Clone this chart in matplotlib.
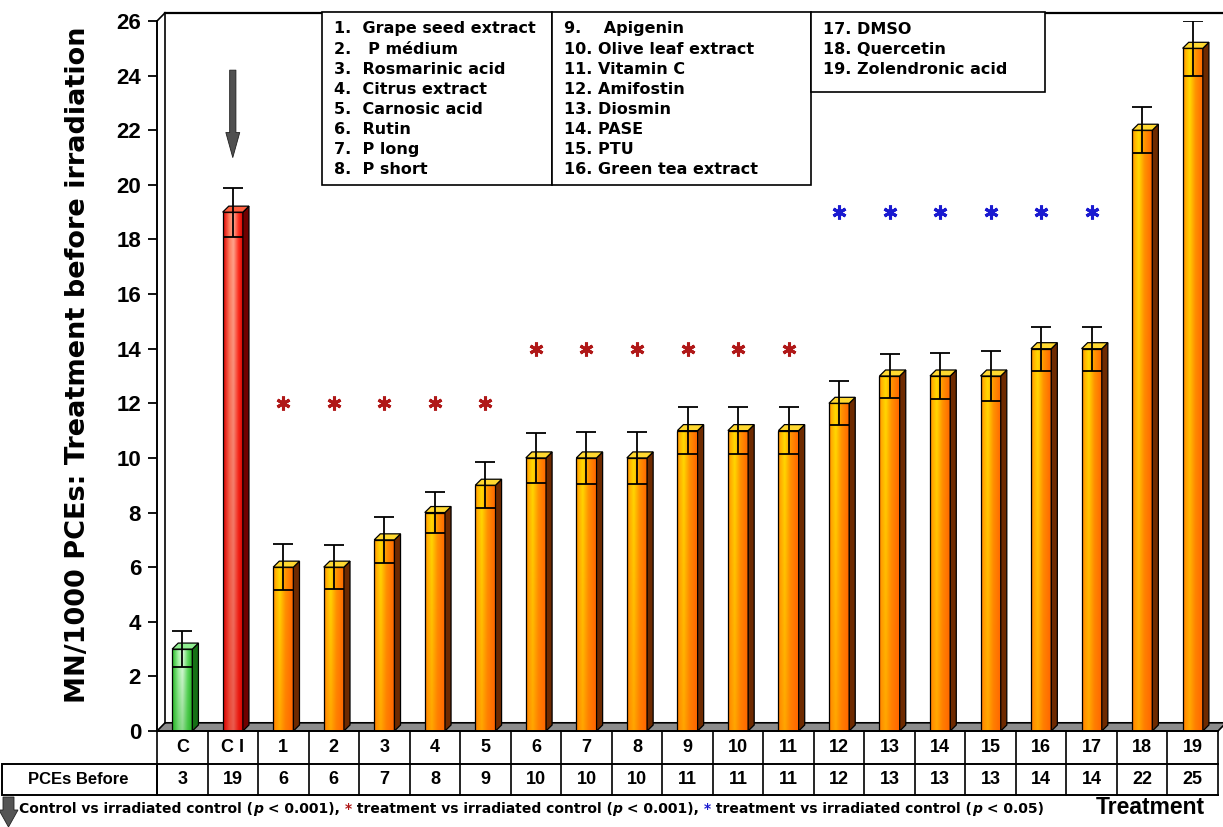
import numpy as np
import matplotlib.pyplot as plt
import matplotlib.transforms as mtransforms
from matplotlib.patches import Rectangle, Polygon
from matplotlib.colors import to_rgb

# groups along the x axis and the MN/1000 PCE counts
groups = ['C', 'C I', '1', '2', '3', '4', '5', '6', '7', '8', '9', '10',
          '11', '12', '13', '14', '15', '16', '17', '18', '19']
mn_values = [3, 19, 6, 6, 7, 8, 9, 10, 10, 10, 11, 11, 11, 12, 13, 13, 13, 14, 14, 22, 25]
mn_errors = [0.65, 0.9, 0.85, 0.8, 0.85, 0.75, 0.85, 0.9, 0.95, 0.95, 0.85, 0.85,
             0.85, 0.8, 0.8, 0.85, 0.9, 0.8, 0.8, 0.85, 1.0]
pce_before = ['3', '19', '6', '6', '7', '8', '9', '10', '10', '10', '11', '11',
              '11', '12', '13', '13', '13', '14', '14', '22', '25']
bar_kinds = ['control', 'irradiated'] + ['treatment'] * 19

# significance marks
red_star_groups = ['1', '2', '3', '4', '5', '6', '7', '8', '9', '10', '11']
red_star_y = [12, 12, 12, 12, 12, 14, 14, 14, 14, 14, 14]
blue_star_groups = ['12', '13', '14', '15', '16', '17']
blue_star_y = [19, 19, 19, 19, 19, 19]

# treatment key, three boxes
key_cols = [
    ['1.  Grape seed extract', '2.   P médium', '3.  Rosmarinic acid', '4.  Citrus extract',
     '5.  Carnosic acid', '6.  Rutin', '7.  P long', '8.  P short'],
    ['9.    Apigenin', '10. Olive leaf extract', '11. Vitamin C', '12. Amifostin',
     '13. Diosmin', '14. PASE', '15. PTU', '16. Green tea extract'],
    ['17. DMSO', '18. Quercetin', '19. Zolendronic acid'],
]

styles = {
    'treatment': dict(stops=[(0, '#ff7800'), (0.1, '#ffb000'), (0.32, '#ffdc00'),
                             (0.6, '#ff9400'), (1, '#ff6400')],
                      side='#6e2a00', top='#ffd830'),
    'control': dict(stops=[(0, '#22bb22'), (0.3, '#aaf5aa'), (0.5, '#e8ffe8'),
                           (0.75, '#66dd66'), (1, '#22aa22')],
                    side='#157015', top='#90ee90'),
    'irradiated': dict(stops=[(0, '#e00000'), (0.3, '#ff8060'), (0.5, '#ffa890'),
                              (0.75, '#ff3020'), (1, '#d00000')],
                       side='#700000', top='#ff6040'),
}


def gradient(stops, ny=80, nx=40):
    xs = np.linspace(0, 1, nx)
    pos = [s[0] for s in stops]
    cols = np.array([to_rgb(s[1]) for s in stops])
    row = np.stack([np.interp(xs, pos, cols[:, k]) for k in range(3)], axis=-1)
    img = np.repeat(row[None, :, :], ny, axis=0)
    # deeper tone toward the base
    shade = np.linspace(0.45, 0.0, ny)[:, None, None]
    base = np.array(to_rgb(stops[-1][1]))
    return img * (1 - shade) + base * shade


W, H = 1223, 827
fig = plt.figure(figsize=(W / 100, H / 100), dpi=100)
ax = fig.add_axes([157 / W, 96 / H, (1218 - 157) / W, 710 / H])

x = np.arange(len(groups))
xmin, xmax = -0.5, len(groups) - 0.5
dx, dy = 0.16, 0.3       # depth of the 3D frame
bw, bdx, bdy = 0.4, 0.12, 0.22

# floor and back wall
ax.add_patch(Polygon([(xmin, 0), (xmax, 0), (xmax + dx, dy), (xmin + dx, dy)],
                     closed=True, facecolor='#8c8c8c', edgecolor='black', lw=1.2,
                     zorder=1, clip_on=False))
ax.plot([xmin + dx, xmin + dx], [dy, 26 + dy], color='black', lw=1.2, clip_on=False, zorder=1)
ax.plot([xmin + dx, xmax + dx], [26 + dy, 26 + dy], color='black', lw=1.6, clip_on=False, zorder=1)
ax.plot([xmin, xmin + dx], [26, 26 + dy], color='black', lw=1.2, clip_on=False, zorder=1)

# bars with gradient faces
for xi, v, kind in zip(x, mn_values, bar_kinds):
    st = styles[kind]
    x0 = xi - bw / 2
    rect = Rectangle((x0, 0), bw, v, facecolor='none', edgecolor='black', lw=0.9, zorder=3)
    ax.add_patch(rect)
    im = ax.imshow(gradient(st['stops']), extent=(x0, x0 + bw, 0, v),
                   aspect='auto', origin='lower', zorder=2, interpolation='bilinear')
    im.set_clip_path(rect)
    ax.add_patch(Polygon([(x0 + bw, 0), (x0 + bw + bdx, bdy), (x0 + bw + bdx, v + bdy),
                          (x0 + bw, v)], closed=True, facecolor=st['side'],
                         edgecolor='black', lw=0.9, zorder=3))
    ax.add_patch(Polygon([(x0, v), (x0 + bdx, v + bdy), (x0 + bw + bdx, v + bdy),
                          (x0 + bw, v)], closed=True, facecolor=st['top'],
                         edgecolor='black', lw=0.9, zorder=3))

ax.errorbar(x, mn_values, yerr=mn_errors, fmt='none', ecolor='black',
            elinewidth=1.3, capsize=7, capthick=1.3, zorder=5)

# significance asterisks
pos = {g: i for i, g in enumerate(groups)}
ax.plot([pos[g] for g in red_star_groups], red_star_y, linestyle='none',
        marker=(6, 2, 0), markersize=10, mew=2.2, color='#b01818', zorder=5)
ax.plot([pos[g] for g in blue_star_groups], blue_star_y, linestyle='none',
        marker=(6, 2, 0), markersize=10, mew=2.2, color='#1a1ad0', zorder=5)

# arrow over the irradiated control
ax.annotate('', xy=(pos['C I'], 21.0), xytext=(pos['C I'], 24.2),
            arrowprops=dict(facecolor='#505050', edgecolor='#202020', lw=0.6,
                            width=4.5, headwidth=10, headlength=18, shrink=0))

ax.set_xlim(xmin, xmax)
ax.set_ylim(0, 26)
ax.set_yticks(range(0, 27, 2))
ax.set_xticks([])
for s in ['top', 'right', 'bottom']:
    ax.spines[s].set_visible(False)
ax.spines['left'].set_linewidth(1.4)
ax.tick_params(axis='y', direction='out', length=6.5, width=1.3, pad=5)
for lab in ax.get_yticklabels():
    lab.set_fontfamily('Liberation Sans')
    lab.set_fontweight('bold')
    lab.set_fontsize(16)

fig.text(78 / W, 1 - 365 / H, 'MN/1000 PCEs: Treatment before irradiation',
         rotation=90, ha='center', va='center', fontsize=19.5, fontweight='bold',
         family='DejaVu Sans')

# table under the bars
trans = mtransforms.blended_transform_factory(ax.transData, ax.transAxes)
r1, r2 = -33 / 710, -64 / 710
for yy in [0, r1, r2]:
    ax.plot([xmin, xmax], [yy, yy], color='black', lw=1.4, transform=trans, clip_on=False)
for k in range(len(groups) + 1):
    ax.plot([xmin + k, xmin + k], [r2, 0], color='black', lw=1.2, transform=trans, clip_on=False)
for xi, g, p in zip(x, groups, pce_before):
    ax.text(xi, r1 / 2, g, transform=trans, ha='center', va='center',
            fontsize=13, fontweight='bold', family='Liberation Sans')
    ax.text(xi, (r1 + r2) / 2, p, transform=trans, ha='center', va='center',
            fontsize=13, fontweight='bold', family='Liberation Sans')

ftr = fig.transFigure
fig.add_artist(Rectangle((2 / W, 1 - 795 / H), (157 - 2) / W, 31 / H, transform=ftr,
                         facecolor='none', edgecolor='black', lw=1.4))
fig.text(78 / W, 1 - 779.5 / H, 'PCEs Before', ha='center', va='center',
         fontsize=12, fontweight='bold', family='Liberation Sans')

# key boxes
boxes = [(322, 552, 185), (552, 811, 185), (811, 1045, 92)]
for (bx0, bx1, by1), items in zip(boxes, key_cols):
    fig.add_artist(Rectangle((bx0 / W, 1 - by1 / H), (bx1 - bx0) / W, (by1 - 12) / H,
                             transform=ftr, facecolor='white', edgecolor='black',
                             lw=1.2, zorder=6))
    for j, item in enumerate(items):
        fig.text((bx0 + 12) / W, 1 - (29 + 20.1 * j) / H, item, ha='left', va='center',
                 fontsize=11.5, fontweight='bold', family='DejaVu Sans', zorder=7)

# footnote
fig.add_artist(plt.Polygon([(3 / W, 1 - 797 / H), (14 / W, 1 - 797 / H), (14 / W, 1 - 810 / H),
                            (18 / W, 1 - 810 / H), (8.5 / W, 1 - 827 / H), (-1 / W, 1 - 810 / H),
                            (3 / W, 1 - 810 / H)], closed=True, transform=ftr,
                           facecolor='#555555', edgecolor='#222222', lw=0.6))
pieces = [('Control vs irradiated control (', 'black', 'normal'),
          ('p', 'black', 'italic'),
          (' < 0.001), ', 'black', 'normal'),
          ('*', '#b01818', 'normal'),
          (' treatment vs irradiated control (', 'black', 'normal'),
          ('p', 'black', 'italic'),
          (' < 0.001), ', 'black', 'normal'),
          ('*', '#1a1ad0', 'normal'),
          (' treatment vs irradiated control (', 'black', 'normal'),
          ('p', 'black', 'italic'),
          (' < 0.05)', 'black', 'normal')]
prev = None
for txt, col, sty in pieces:
    kw = dict(fontsize=10, fontweight='bold', family='DejaVu Sans', color=col, style=sty,
              ha='left', va='bottom')
    if prev is None:
        prev = fig.text(19 / W, 1 - 816 / H, txt, **kw)
    else:
        prev = ax.annotate(txt, xy=(1, 0), xycoords=prev, annotation_clip=False, **kw)

fig.text(1205 / W, 1 - 808 / H, 'Treatment', ha='right', va='center',
         fontsize=16.5, fontweight='bold', family='Liberation Sans')

fig.savefig('out.png', dpi=100)
